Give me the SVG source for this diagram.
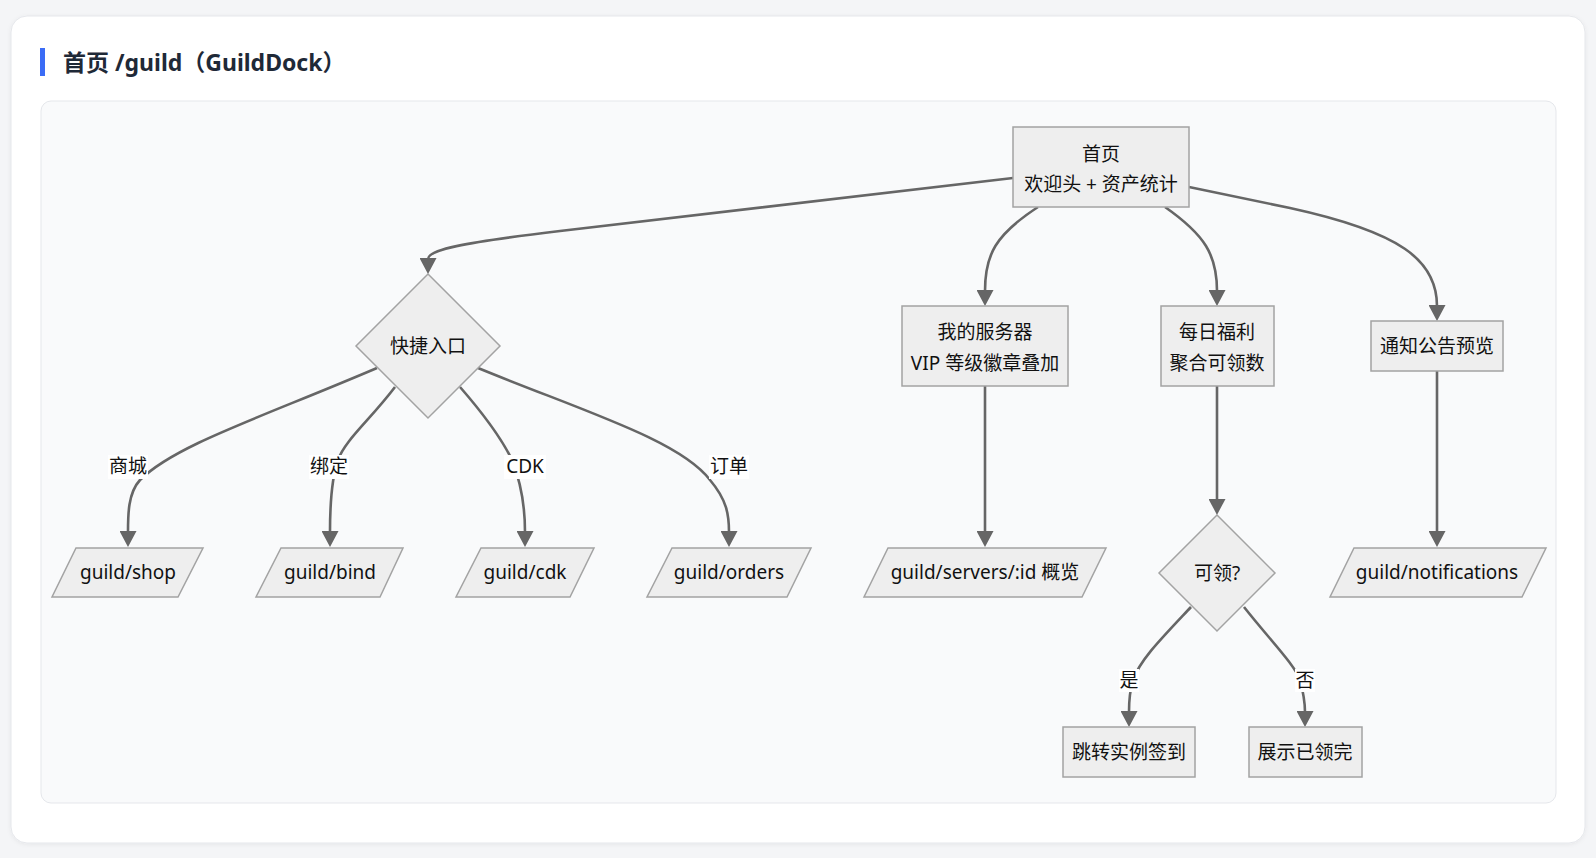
<svg xmlns="http://www.w3.org/2000/svg" width="1596" height="858" viewBox="0 0 1596 858">
<style>
.node{fill:#eeeeee;stroke:#a3a3a3;stroke-width:1.5}
.t{font-family:"Noto Sans","Noto Sans CJK SC",sans-serif;font-size:19px;fill:#111;text-anchor:middle}
.edge{fill:none;stroke:#666;stroke-width:2.6}
.lbg{fill:#ffffff}
</style>
<defs>
<marker id="arr" markerUnits="userSpaceOnUse" markerWidth="17" markerHeight="17" viewBox="0 0 15 16" refX="1" refY="8" orient="auto">
<path d="M0,0 L15,8 L0,16 z" fill="#666"/>
</marker>
<filter id="sh" x="-5%" y="-5%" width="110%" height="110%">
<feDropShadow dx="0" dy="1" stdDeviation="2" flood-color="#000" flood-opacity="0.06"/>
</filter>
</defs>
<rect x="0" y="0" width="1596" height="858" fill="#f4f5f7"/>
<rect x="11" y="16" width="1574" height="827" rx="16" fill="#ffffff" stroke="#e5e7eb" filter="url(#sh)"/>
<rect x="40" y="48" width="5" height="28" fill="#3b6cf6"/>
<text x="63" y="71" style="font-family:'Noto Sans','Noto Sans CJK SC',sans-serif;font-size:23px;font-weight:bold;fill:#1f2937">首页 /guild（GuildDock）</text>
<rect x="41" y="101" width="1515" height="702" rx="10" fill="#f9fafb" stroke="#e5e7eb"/>

<g id="connectors">
<path class="edge" marker-end="url(#arr)" d="M1013,178 L560,231 C460,243 428,250 428,259"/>
<path class="edge" marker-end="url(#arr)" d="M1038,207 C995,235 985,255 985,291"/>
<path class="edge" marker-end="url(#arr)" d="M1165,207 C1205,235 1217,255 1217,291"/>
<path class="edge" marker-end="url(#arr)" d="M1189,187 L1290,208 C1400,232 1437,260 1437,306"/>
<path class="edge" marker-end="url(#arr)" d="M377,368 C260,418 175,445 140,480 C128,493 128,515 128,532"/>
<path class="edge" marker-end="url(#arr)" d="M395,387 C370,420 345,440 338,460 C331,480 330,505 330,532"/>
<path class="edge" marker-end="url(#arr)" d="M460,387 C480,410 500,435 512,460 C522,485 525,510 525,532"/>
<path class="edge" marker-end="url(#arr)" d="M478,368 C580,410 680,440 710,480 C727,500 729,515 729,532"/>
<path class="edge" marker-end="url(#arr)" d="M985,386 L985,532"/>
<path class="edge" marker-end="url(#arr)" d="M1217,386 L1217,500"/>
<path class="edge" marker-end="url(#arr)" d="M1437,371 L1437,532"/>
<path class="edge" marker-end="url(#arr)" d="M1191,607 C1160,640 1140,660 1133,680 C1130,690 1129,700 1129,712"/>
<path class="edge" marker-end="url(#arr)" d="M1244,607 C1270,640 1295,665 1300,680 C1304,695 1305,705 1305,712"/>
<rect class="lbg" x="108" y="455" width="40" height="24"/>
<text class="t" x="128" y="473">商城</text>
<rect class="lbg" x="309" y="455" width="40" height="24"/>
<text class="t" x="329" y="473">绑定</text>
<rect class="lbg" x="504" y="455" width="42" height="24"/>
<text class="t" x="525" y="473">CDK</text>
<rect class="lbg" x="709" y="455" width="40" height="24"/>
<text class="t" x="729" y="473">订单</text>
<rect class="lbg" x="1119" y="669" width="20" height="23"/>
<text class="t" x="1129" y="687">是</text>
<rect class="lbg" x="1295" y="669" width="20" height="23"/>
<text class="t" x="1305" y="687">否</text>
</g>

<g id="home">
<rect class="node" x="1013" y="127" width="176" height="80"/>
<text class="t" x="1101" y="161">首页</text>
<text class="t" x="1101" y="191">欢迎头 + 资产统计</text>
</g>
<g id="quick">
<polygon class="node" points="428,274 500,346 428,418 356,346"/>
<text class="t" x="428" y="353">快捷入口</text>
</g>
<g id="servers">
<rect class="node" x="902" y="306" width="166" height="80"/>
<text class="t" x="985" y="339">我的服务器</text>
<text class="t" x="985" y="370">VIP 等级徽章叠加</text>
</g>
<g id="daily">
<rect class="node" x="1161" y="306" width="113" height="80"/>
<text class="t" x="1217" y="339">每日福利</text>
<text class="t" x="1217" y="370">聚合可领数</text>
</g>
<g id="notice">
<rect class="node" x="1371" y="321" width="132" height="50"/>
<text class="t" x="1437" y="353">通知公告预览</text>
</g>
<g id="shop">
<polygon class="node" points="76,548 203,548 178,597 52,597"/>
<text class="t" x="128" y="579">guild/shop</text>
</g>
<g id="bind">
<polygon class="node" points="281,548 403,548 380,597 256,597"/>
<text class="t" x="330" y="579">guild/bind</text>
</g>
<g id="cdk">
<polygon class="node" points="481,548 594,548 570,597 456,597"/>
<text class="t" x="525" y="579">guild/cdk</text>
</g>
<g id="orders">
<polygon class="node" points="672,548 811,548 787,597 647,597"/>
<text class="t" x="729" y="579">guild/orders</text>
</g>
<g id="serverpage">
<polygon class="node" points="888,548 1106,548 1082,597 864,597"/>
<text class="t" x="985" y="579">guild/servers/:id 概览</text>
</g>
<g id="claimable">
<polygon class="node" points="1217,515 1275,573 1217,631 1159,573"/>
<text class="t" x="1217" y="580">可领?</text>
</g>
<g id="notifications">
<polygon class="node" points="1354,548 1546,548 1522,597 1330,597"/>
<text class="t" x="1437" y="579">guild/notifications</text>
</g>
<g id="jump">
<rect class="node" x="1063" y="727" width="132" height="50"/>
<text class="t" x="1129" y="759">跳转实例签到</text>
</g>
<g id="done">
<rect class="node" x="1249" y="727" width="113" height="50"/>
<text class="t" x="1305" y="759">展示已领完</text>
</g>
</svg>
